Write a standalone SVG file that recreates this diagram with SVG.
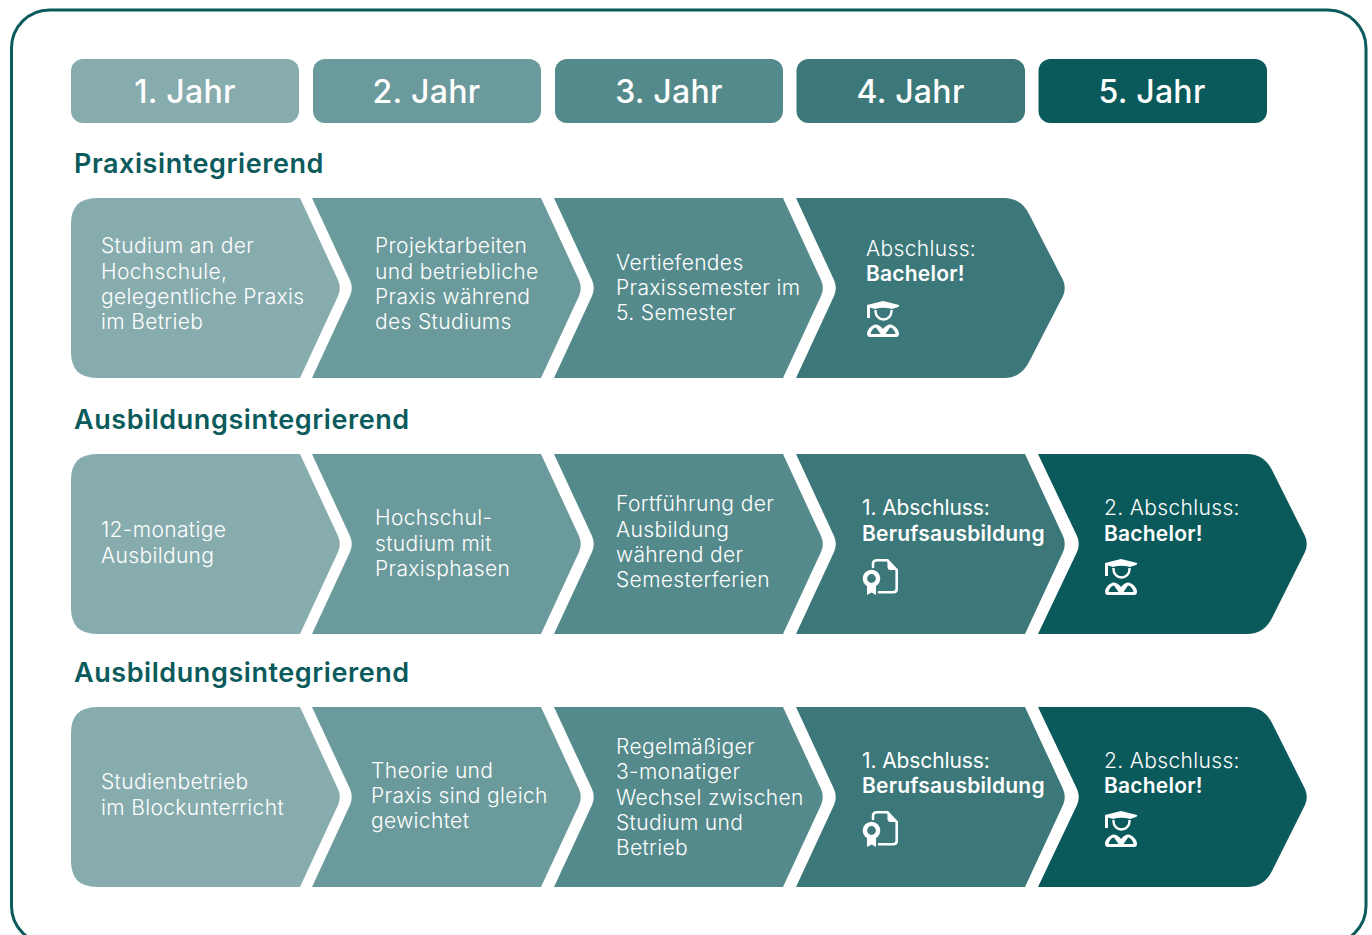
<svg xmlns="http://www.w3.org/2000/svg" xmlns:xlink="http://www.w3.org/1999/xlink" width="1372" height="935" viewBox="0 0 1372 935">
<style>
text{font-family:Inter,"Noto Sans","Liberation Sans",sans-serif;fill:#fff}
.h{font-size:32px;font-weight:500;text-anchor:middle;letter-spacing:.3px}
.t{font-size:27px;font-weight:600;fill:#0b5a5c;letter-spacing:.56px}
.b{font-size:21px;font-weight:300;letter-spacing:.35px}
.s{font-weight:600;letter-spacing:.22px}
.m{font-weight:400;letter-spacing:-.1px}
.c1{fill:#87acae}.c2{fill:#6b9a9c}.c3{fill:#548a8b}.c4{fill:#3c787a}.c5{fill:#0a595b}
</style>
<defs>
<path id="ca" d="M97 0H300L338 82Q341.500 90 338 98L300 180H97Q71 180 71 154V26Q71 0 97 0Z"/>
<path id="cb" d="M312 0H541L579 82Q582.500 90 579 98L541 180H312L350 98Q353.500 90 350 82Z"/>
<path id="cc" d="M554 0H783L821 82Q824.500 90 821 98L783 180H554L592 98Q595.500 90 592 82Z"/>
<path id="cd" d="M796 0H1025L1063 82Q1066.500 90 1063 98L1025 180H796L834 98Q837.500 90 834 82Z"/>
<path id="cr" d="M796 0H1004Q1021 0 1029 16L1063 82Q1066.500 90 1063 98L1029 164Q1021 180 1004 180H796L834 98Q837.500 90 834 82Z"/>
<path id="ce" d="M1038 0H1247Q1264 0 1272 16L1305 82Q1308.500 90 1305 98L1272 164Q1264 180 1247 180H1038L1077 98Q1080.500 90 1077 82Z"/>
<g id="grad">
<path fill="#fff" d="M0 4L16 0L32 4Q33 5 31 6L25 8Q16 5.500 8 8L3 6.500V17H0Z"/>
<path fill="none" stroke="#fff" stroke-width="2.400" d="M8.500 9V10.500A8 8 0 0 0 24.500 10.500V9"/>
<path fill="#fff" fill-rule="evenodd" d="M0 32.500Q1 26 8 23.500Q12 23 16 28Q20 23 24 23.500Q31 26 32 32.500Q32 36 29 36H3Q0 36 0 32.500ZM3.500 33H13.500L9 26.500Q5 27 3.500 33ZM18.500 33H28.500Q27 27 23 26.500Z"/>
</g>
<g id="cert">
<path fill="none" stroke="#fff" stroke-width="2.600" stroke-linecap="round" d="M11 8V5Q11 1.300 15 1.300H25.500L34.700 11V30Q34.700 33.300 31 33.300H17"/>
<path fill="#fff" d="M25.500 1.300V8Q25.500 11 28.500 11H34.700Z"/>
<circle cx="9.500" cy="19.500" r="6.600" fill="none" stroke="#fff" stroke-width="4.400"/>
<path fill="#fff" d="M5 26H14V36L9.500 33.500L5 36Z"/>
</g>
</defs>
<rect id="frame" x="11.500" y="10" width="1354.500" height="934" rx="38" fill="#fff" stroke="#0b5a5c" stroke-width="3"/>
<g id="year-1"><rect class="c1" x="71" y="59" width="228" height="64" rx="12"/><text class="h" x="185" y="102.500">1. Jahr</text></g>
<g id="year-2"><rect class="c2" x="313" y="59" width="228" height="64" rx="12"/><text class="h" x="426.500" y="102.500">2. Jahr</text></g>
<g id="year-3"><rect class="c3" x="555" y="59" width="228" height="64" rx="12"/><text class="h" x="669" y="102.500">3. Jahr</text></g>
<g id="year-4"><rect class="c4" x="796.500" y="59" width="228.500" height="64" rx="12"/><text class="h" x="910.500" y="102.500">4. Jahr</text></g>
<g id="year-5"><rect class="c5" x="1038.500" y="59" width="228.500" height="64" rx="12"/><text class="h" x="1152" y="102.500">5. Jahr</text></g>
<text class="t" x="74" y="173">Praxisintegrierend</text>
<text class="t" x="74" y="429">Ausbildungsintegrierend</text>
<text class="t" x="74" y="682">Ausbildungsintegrierend</text>
<g id="connectors"/>
<g id="r1-1"><use href="#ca" class="c1" y="198"/><text class="b"><tspan x="101" y="253">Studium an der</tspan><tspan x="101" y="278.500">Hochschule,</tspan><tspan x="101" y="304">gelegentliche Praxis</tspan><tspan x="101" y="329">im Betrieb</tspan></text></g>
<g id="r1-2"><use href="#cb" class="c2" y="198"/><text class="b"><tspan x="375" y="253">Projektarbeiten</tspan><tspan x="375" y="278.500">und betriebliche</tspan><tspan x="375" y="304">Praxis während</tspan><tspan x="375" y="329">des Studiums</tspan></text></g>
<g id="r1-3"><use href="#cc" class="c3" y="198"/><text class="b"><tspan x="616" y="269.500">Vertiefendes</tspan><tspan x="616" y="295">Praxissemester im</tspan><tspan x="616" y="320">5. Semester</tspan></text></g>
<g id="r1-4"><use href="#cr" class="c4" y="198"/><text class="b"><tspan x="866" y="256">Abschluss:</tspan><tspan x="866" y="281" class="s">Bachelor!</tspan></text><use href="#grad" x="867" y="301"/></g>
<g id="r2-1"><use href="#ca" class="c1" y="454"/><text class="b"><tspan x="101" y="537">12-monatige</tspan><tspan x="101" y="562.500">Ausbildung</tspan></text></g>
<g id="r2-2"><use href="#cb" class="c2" y="454"/><text class="b"><tspan x="375" y="525">Hochschul-</tspan><tspan x="375" y="550.500">studium mit</tspan><tspan x="375" y="576">Praxisphasen</tspan></text></g>
<g id="r2-3"><use href="#cc" class="c3" y="454"/><text class="b"><tspan x="616" y="511">Fortführung der</tspan><tspan x="616" y="536.500">Ausbildung</tspan><tspan x="616" y="562">während der</tspan><tspan x="616" y="587">Semesterferien</tspan></text></g>
<g id="r2-4"><use href="#cd" class="c4" y="454"/><text class="b"><tspan x="862" y="515" class="m">1. Abschluss:</tspan><tspan x="862" y="540.500" class="s">Berufsausbildung</tspan></text><use href="#cert" x="862" y="559"/></g>
<g id="r2-5"><use href="#ce" class="c5" y="454"/><text class="b"><tspan x="1104" y="515">2. Abschluss:</tspan><tspan x="1104" y="540.500" class="s">Bachelor!</tspan></text><use href="#grad" x="1105" y="559"/></g>
<g id="r3-1"><use href="#ca" class="c1" y="707"/><text class="b"><tspan x="101" y="789">Studienbetrieb</tspan><tspan x="101" y="814.500">im Blockunterricht</tspan></text></g>
<g id="r3-2"><use href="#cb" class="c2" y="707"/><text class="b"><tspan x="371" y="777.500">Theorie und</tspan><tspan x="371" y="803">Praxis sind gleich</tspan><tspan x="371" y="828">gewichtet</tspan></text></g>
<g id="r3-3"><use href="#cc" class="c3" y="707"/><text class="b"><tspan x="616" y="754">Regelmäßiger</tspan><tspan x="616" y="779">3-monatiger</tspan><tspan x="616" y="804.500">Wechsel zwischen</tspan><tspan x="616" y="830">Studium und</tspan><tspan x="616" y="855">Betrieb</tspan></text></g>
<g id="r3-4"><use href="#cd" class="c4" y="707"/><text class="b"><tspan x="862" y="768" class="m">1. Abschluss:</tspan><tspan x="862" y="793" class="s">Berufsausbildung</tspan></text><use href="#cert" x="862" y="811"/></g>
<g id="r3-5"><use href="#ce" class="c5" y="707"/><text class="b"><tspan x="1104" y="767.500">2. Abschluss:</tspan><tspan x="1104" y="793" class="s">Bachelor!</tspan></text><use href="#grad" x="1105" y="811"/></g>
</svg>
